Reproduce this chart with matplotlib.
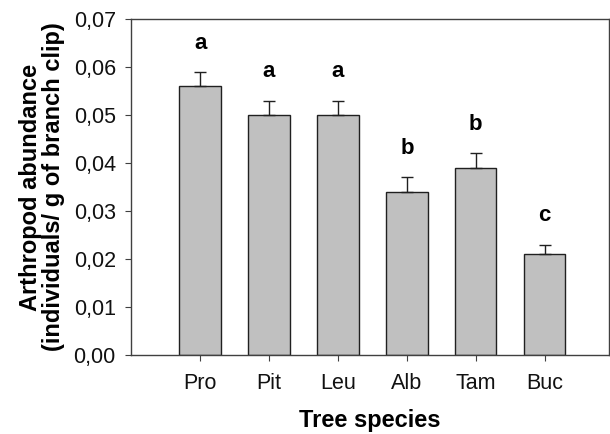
import numpy as np
import matplotlib
matplotlib.use('Agg')
import matplotlib.pyplot as plt
from matplotlib.ticker import FuncFormatter

plt.rcParams['font.family'] = ['Liberation Sans', 'DejaVu Sans']

species = ['Pro', 'Pit', 'Leu', 'Alb', 'Tam', 'Buc']
abundance = [0.056, 0.050, 0.050, 0.034, 0.039, 0.021]
se = [0.003, 0.003, 0.003, 0.003, 0.003, 0.002]
groups = ['a', 'a', 'a', 'b', 'b', 'c']

fig = plt.figure(figsize=(6.1, 4.34), dpi=100)
ax = fig.add_axes([0.215, 0.182, 0.783, 0.774])

x = np.arange(len(species))
ax.bar(x, abundance, width=0.6, color='#c0c0c0', edgecolor='#202020', linewidth=1.0, zorder=2)
ax.errorbar(x, abundance, yerr=[np.zeros(len(se)), se], fmt='none', ecolor='#202020',
            elinewidth=1.0, capsize=4, capthick=1.0, zorder=3)

for xi, v, e, g in zip(x, abundance, se, groups):
    ax.text(xi, v + e + 0.006, g, ha='center', va='center', fontsize=16, fontweight='bold')

ax.set_xlim(-1, 5.93)
ax.set_ylim(0, 0.07)
ax.set_yticks(np.arange(0, 0.0701, 0.01))
ax.yaxis.set_major_formatter(FuncFormatter(lambda v, p: ('%.2f' % v).replace('.', ',')))
ax.set_xticks(x)
ax.set_xticklabels(species)
ax.tick_params(axis='both', direction='out', length=4, width=0.8, colors='#404040',
               labelcolor='#111111', labelsize=15.5)
ax.tick_params(axis='x', pad=9)
ax.tick_params(axis='y', pad=7)
for s in ax.spines.values():
    s.set_color('#404040')
    s.set_linewidth(1.0)

ax.set_xlabel('Tree species', fontsize=17, fontweight='bold', labelpad=11)
ax.set_ylabel('Arthropod abundance\n(individuals/ g of branch clip)', fontsize=17,
              fontweight='bold', labelpad=6, linespacing=1.0)

fig.savefig('out.png', dpi=100)
